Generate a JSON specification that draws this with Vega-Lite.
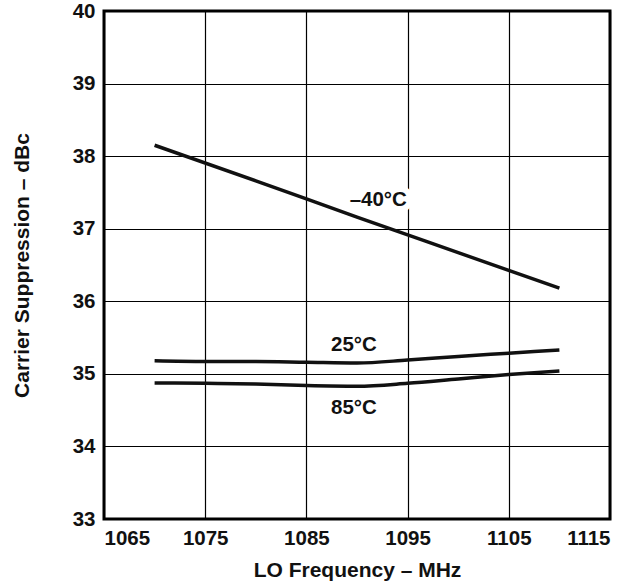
{
  "$schema": "https://vega.github.io/schema/vega-lite/v6.json",
  "width": 506,
  "height": 508,
  "autosize": "none",
  "padding": {"left": 104, "top": 11, "right": 21, "bottom": 65},
  "background": "white",
  "config": {
    "font": "Liberation Sans",
    "view": {"stroke": "black", "strokeWidth": 3},
    "axis": {
      "grid": true, "gridColor": "black", "gridOpacity": 1, "gridWidth": 1.2,
      "domain": false, "ticks": false, "format": "d",
      "labelFont": "Liberation Sans", "labelFontWeight": "bold", "labelFontSize": 20.5, "labelColor": "#111",
      "titleFont": "Liberation Sans", "titleFontWeight": "bold", "titleFontSize": 21, "titleColor": "#111"
    }
  },
  "datasets": {
    "curves": [
      {"temp": "-40", "freq": 1070, "value": 38.15},
      {"temp": "-40", "freq": 1080, "value": 37.66},
      {"temp": "-40", "freq": 1090, "value": 37.16},
      {"temp": "-40", "freq": 1100, "value": 36.67},
      {"temp": "-40", "freq": 1110, "value": 36.18},
      {"temp": "25", "freq": 1070, "value": 35.18},
      {"temp": "25", "freq": 1075, "value": 35.17},
      {"temp": "25", "freq": 1080, "value": 35.17},
      {"temp": "25", "freq": 1085, "value": 35.16},
      {"temp": "25", "freq": 1090, "value": 35.15},
      {"temp": "25", "freq": 1095, "value": 35.19},
      {"temp": "25", "freq": 1100, "value": 35.24},
      {"temp": "25", "freq": 1105, "value": 35.285},
      {"temp": "25", "freq": 1110, "value": 35.33},
      {"temp": "85", "freq": 1070, "value": 34.875},
      {"temp": "85", "freq": 1075, "value": 34.87},
      {"temp": "85", "freq": 1080, "value": 34.86},
      {"temp": "85", "freq": 1085, "value": 34.84},
      {"temp": "85", "freq": 1090, "value": 34.83},
      {"temp": "85", "freq": 1095, "value": 34.87},
      {"temp": "85", "freq": 1100, "value": 34.93},
      {"temp": "85", "freq": 1105, "value": 34.99},
      {"temp": "85", "freq": 1110, "value": 35.04}
    ],
    "labels": [
      {"label": "–40°C", "freq": 1092.1, "value": 37.40},
      {"label": "25°C", "freq": 1089.7, "value": 35.40},
      {"label": "85°C", "freq": 1089.7, "value": 34.53}
    ]
  },
  "layer": [
    {
      "data": {"name": "curves"},
      "mark": {"type": "line", "color": "#111", "strokeWidth": 3.5, "interpolate": "monotone"},
      "encoding": {
        "x": {"field": "freq", "type": "quantitative", "scale": {"domain": [1065, 1115], "nice": false, "zero": false},
              "axis": {"values": [1065, 1075, 1085, 1095, 1105, 1115], "title": "LO Frequency – MHz", "labelPadding": 9, "titlePadding": 11}},
        "y": {"field": "value", "type": "quantitative", "scale": {"domain": [33, 40], "nice": false, "zero": false},
              "axis": {"values": [33, 34, 35, 36, 37, 38, 39, 40], "title": "Carrier Suppression – dBc", "labelPadding": 9, "titlePadding": 40}},
        "detail": {"field": "temp"}
      }
    },
    {
      "data": {"name": "labels"},
      "mark": {"type": "text", "font": "Liberation Sans", "fontWeight": "bold", "fontSize": 20.5, "fill": "white", "stroke": "white", "strokeWidth": 12, "align": "center", "baseline": "middle"},
      "encoding": {
        "x": {"field": "freq", "type": "quantitative"},
        "y": {"field": "value", "type": "quantitative"},
        "text": {"field": "label"}
      }
    },
    {
      "data": {"name": "labels"},
      "mark": {"type": "text", "font": "Liberation Sans", "fontWeight": "bold", "fontSize": 20.5, "color": "#111", "align": "center", "baseline": "middle"},
      "encoding": {
        "x": {"field": "freq", "type": "quantitative"},
        "y": {"field": "value", "type": "quantitative"},
        "text": {"field": "label"}
      }
    }
  ]
}
